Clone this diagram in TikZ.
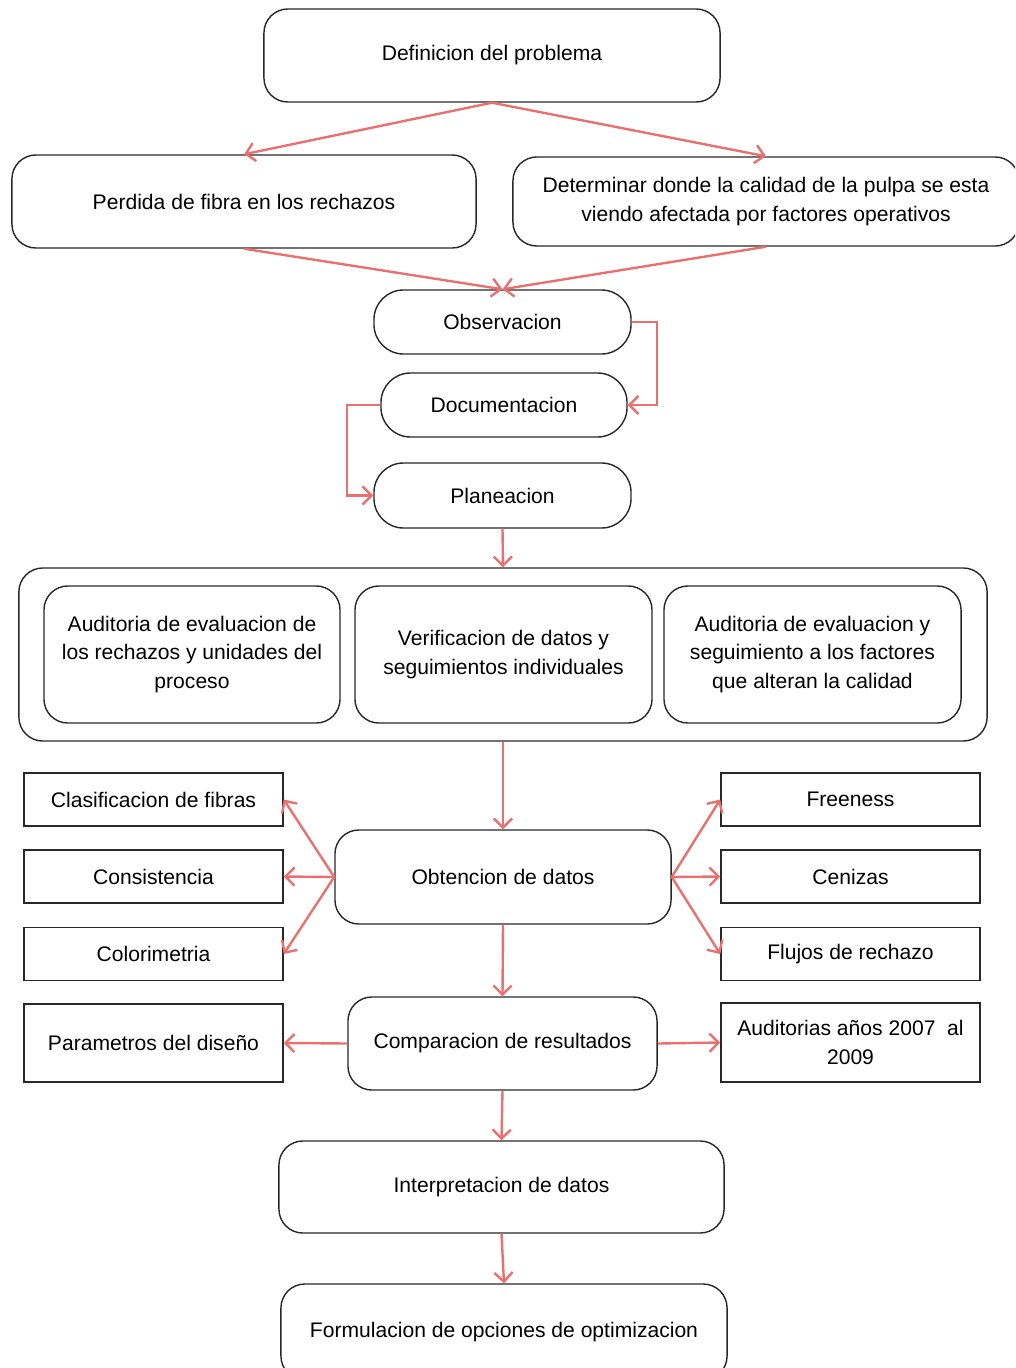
\documentclass[tikz,border=0pt]{standalone}
\usepackage{fontspec}
\setmainfont{Liberation Sans}
\usetikzlibrary{positioning,calc,arrows.meta}
\definecolor{FlowRed}{RGB}{234,112,112}
\definecolor{EdgeGray}{RGB}{40,40,40}

\begin{document}
\begin{tikzpicture}[
    x=0.025cm,
    y=-0.025cm,
    font=\fontsize{15}{20.5}\selectfont,
    round/.style={
        draw=EdgeGray,
        line width=1pt,
        rounded corners=17pt,
        align=center,
        inner sep=0pt
    },
    pill/.style={
        round,
        rounded corners=21pt
    },
    plain/.style={
        draw=EdgeGray,
        line width=1pt,
        align=center,
        inner sep=0pt,
        minimum width=6.475cm
    },
    arrow/.style={
        -{Straight Barb[length=6.5pt,width=13pt]},
        line width=1.7pt,
        draw=FlowRed
    }
]
\clip (0,0) rectangle (1015,1368);

\node[round, minimum width=11.4cm, minimum height=2.325cm] (problema) at (492,55.5) {Definicion del problema};

\node[round, minimum width=11.6cm, minimum height=2.325cm] (perdida) at (244,201.5) {Perdida de fibra en los rechazos};
\node[round, minimum width=12.65cm, minimum height=2.225cm] (calidad) at (766,201.5) {Determinar donde la calidad de la pulpa se esta\\viendo afectada por factores operativos};

\node[pill, minimum width=6.425cm, minimum height=1.6cm] (observ) at (502.5,322) {Observacion};
\node[pill, minimum width=6.15cm, minimum height=1.6cm] (docum) at (504,405) {Documentacion};
\node[pill, minimum width=6.425cm, minimum height=1.625cm] (planea) at (502.5,495.5) {Planeacion};

% bloque de auditorias
\node[round, minimum width=24.2cm, minimum height=4.325cm] (auditorias) at (503,654.5) {};
\node[round, minimum width=7.4cm, minimum height=3.425cm] (audrech) at (192,654.5) {Auditoria de evaluacion de\\los rechazos y unidades del\\proceso};
\node[round, minimum width=7.425cm, minimum height=3.425cm] (verif) at (503.5,654.5) {Verificacion de datos y\\seguimientos individuales};
\node[round, minimum width=7.425cm, minimum height=3.425cm] (audfact) at (812.5,654.5) {Auditoria de evaluacion y\\seguimiento a los factores\\que alteran la calidad};

\node[round, minimum width=8.4cm, minimum height=2.35cm] (obtencion) at (503,877) {Obtencion de datos};

\node[plain, minimum height=1.325cm] (clasif) at (153.5,799.5) {Clasificacion de fibras};
\node[plain, minimum height=1.325cm] (consist) at (153.5,876.5) {Consistencia};
\node[plain, minimum height=1.325cm] (color) at (153.5,954) {Colorimetria};
\node[plain, minimum height=1.325cm] (freen) at (850.5,799.5) {Freeness};
\node[plain, minimum height=1.325cm] (ceniz) at (850.5,876.5) {Cenizas};
\node[plain, minimum height=1.325cm] (flujos) at (850.5,954) {Flujos de rechazo};

\node[round, minimum width=7.725cm, minimum height=2.325cm] (compar) at (502.5,1043.5) {Comparacion de resultados};
\node[plain, minimum height=1.95cm] (param) at (153.5,1043) {Parametros del diseño};
\node[plain, minimum height=1.975cm] (audanos) at (850.5,1042.5) {Auditorias años 2007~ al\\2009};

\node[round, minimum width=11.125cm, minimum height=2.3cm] (interp) at (501.5,1187) {Interpretacion de datos};
\node[round, minimum width=11.15cm, minimum height=2.4cm] (formul) at (504,1332) {Formulacion de opciones de optimizacion};

% conectores
\draw[arrow] (problema.south) -- (perdida.north);
\draw[arrow] (problema.south) -- (calidad.north);
\draw[arrow] (perdida.south) -- (observ.north);
\draw[arrow] (calidad.south) -- (observ.north);
\draw[arrow] (observ.east) -- ++(25,0) |- (docum.east);
\draw[arrow] (docum.west) -- ++(-33,0) |- (planea.west);
\draw[arrow] (planea.south) -- (auditorias.north);
\draw[arrow] (auditorias.south) -- (obtencion.north);

\draw[arrow] (obtencion.west) -- (clasif.east);
\draw[arrow] (obtencion.west) -- (consist.east);
\draw[arrow] (obtencion.west) -- (color.east);
\draw[arrow] (obtencion.east) -- (freen.west);
\draw[arrow] (obtencion.east) -- (ceniz.west);
\draw[arrow] (obtencion.east) -- (flujos.west);

\draw[arrow] (obtencion.south) -- (compar.north);
\draw[arrow] (compar.west) -- (param.east);
\draw[arrow] (compar.east) -- (audanos.west);
\draw[arrow] (compar.south) -- (interp.north);
\draw[arrow] (interp.south) -- (formul.north);

\end{tikzpicture}
\end{document}
